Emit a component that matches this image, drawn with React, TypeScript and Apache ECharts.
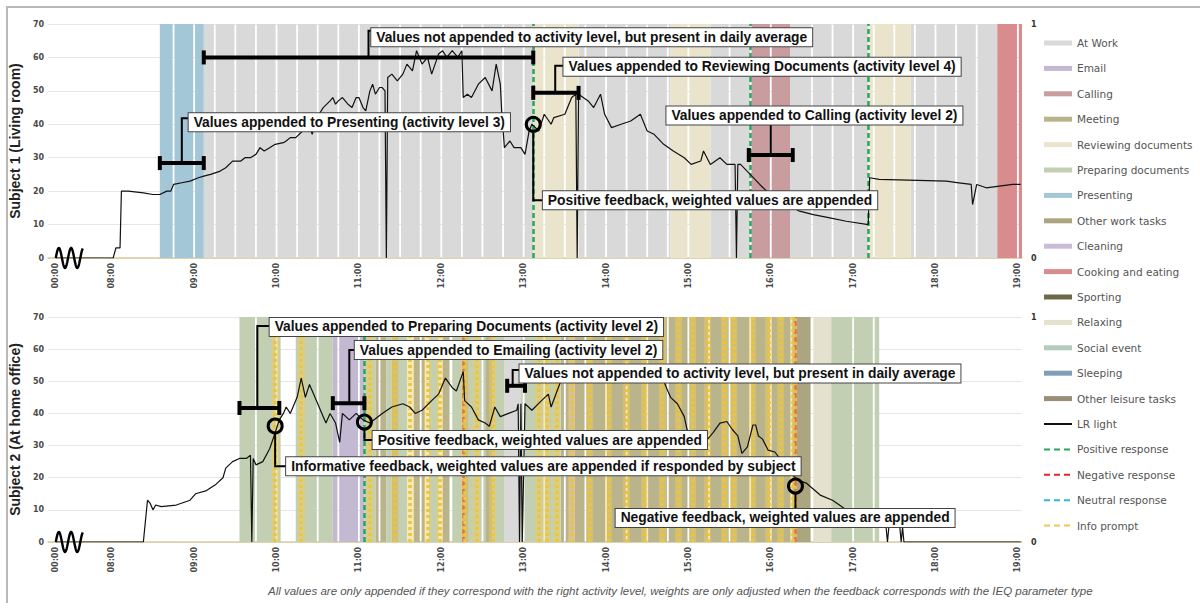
import React, { useEffect, useRef } from 'react';
import * as echarts from 'echarts';

// ---------- axis / ticks ----------
const xTickLabels = ['00:00', '08:00', '09:00', '10:00', '11:00', '12:00', '13:00', '14:00', '15:00', '16:00', '17:00', '18:00', '19:00'];
const AXIS_ZERO = 7.32; // axis position that stands in for 00:00 (broken time axis)
const X_MIN = 7.226;
const X_MAX = 19.05;

// ---------- LR light, subject 1 ----------
const topTimes = ['00:00', '08:01', '08:03', '08:06', '08:07', '08:12', '08:23', '08:30', '08:35', '08:40', '08:43', '08:45', '08:51', '08:57', '09:03', '09:07', '09:12', '09:19', '09:23', '09:28', '09:34', '09:37', '09:41', '09:45', '09:48', '09:51', '09:55', '09:59', '10:05', '10:07', '10:10', '10:14', '10:19', '10:23', '10:26', '10:28', '10:31', '10:34', '10:39', '10:41', '10:43', '10:45', '10:48', '10:52', '10:55', '10:58', '11:00', '11:03', '11:05', '11:08', '11:10', '11:12', '11:15', '11:17', '11:19', '11:20', '11:21', '11:24', '11:28', '11:32', '11:35', '11:39', '11:42', '11:46', '11:50', '11:53', '11:58', '12:01', '12:04', '12:08', '12:12', '12:15', '12:16', '12:19', '12:22', '12:27', '12:32', '12:37', '12:40', '12:43', '12:44', '12:46', '12:50', '12:53', '12:58', '13:01', '13:04', '13:06', '13:11', '13:15', '13:20', '13:22', '13:30', '13:35', '13:38', '13:39', '13:40', '13:47', '13:51', '13:56', '13:59', '14:04', '14:11', '14:18', '14:25', '14:30', '14:35', '14:42', '14:49', '14:57', '15:02', '15:09', '15:11', '15:16', '15:23', '15:28', '15:34', '15:35', '15:36', '15:38', '15:45', '15:52', '15:57', '16:07', '16:21', '16:31', '16:43', '16:55', '17:11', '17:12', '17:19', '18:08', '18:17', '18:26', '18:27', '18:30', '18:37', '18:56', '19:02'];
const topValues = [0, 0, 3, 3, 20, 20, 19.5, 19, 19, 20, 20, 22, 22.5, 23, 24, 24.5, 25, 26, 27, 29, 29, 30, 30, 31, 33, 32, 33, 34, 34.5, 35, 36, 36, 38, 40, 37, 40, 43, 45, 47, 48, 46, 47, 48, 46, 45, 48, 48, 45, 44, 50, 52, 49, 51, 51, 50, 0, 54, 55, 53, 55, 58, 56, 62, 58, 60, 55, 61, 62, 60, 62, 60, 62, 48, 49, 48, 52, 54, 50, 58, 52, 44, 33, 35, 33, 33, 31, 38, 40, 38, 43, 40, 42, 43, 48, 49, 0, 49, 47, 45, 49, 43, 39, 40, 41, 43, 38, 37, 34, 32, 30, 28, 29, 32, 28, 30, 28, 28, 0, 28, 28, 25, 22, 20, 17, 14, 13, 12, 11, 10, 24, 23.5, 23, 22.5, 22, 16, 22, 21, 22, 22];

// ---------- LR light, subject 2 ----------
const bottomTimes = ['00:00', '08:23', '08:26', '08:28', '08:30', '08:32', '08:36', '08:47', '08:57', '09:01', '09:09', '09:16', '09:21', '09:23', '09:28', '09:33', '09:38', '09:41', '09:42', '09:43', '09:45', '09:50', '09:55', '09:59', '10:02', '10:05', '10:07', '10:10', '10:13', '10:15', '10:18', '10:21', '10:24', '10:29', '10:34', '10:36', '10:39', '10:43', '10:46', '10:48', '10:53', '10:58', '11:03', '11:08', '11:17', '11:24', '11:32', '11:37', '11:41', '11:46', '11:53', '11:58', '12:03', '12:08', '12:11', '12:16', '12:17', '12:22', '12:27', '12:32', '12:35', '12:39', '12:43', '12:49', '12:55', '12:56', '12:57', '12:58', '12:59', '13:01', '13:06', '13:13', '13:18', '13:20', '13:27', '13:42', '13:56', '14:11', '14:25', '14:36', '14:42', '14:47', '14:52', '14:57', '14:59', '15:05', '15:12', '15:18', '15:23', '15:28', '15:32', '15:36', '15:39', '15:43', '15:47', '15:49', '15:51', '15:54', '15:58', '16:03', '16:10', '16:19', '16:26', '16:36', '16:45', '16:50', '17:05', '17:19', '17:24', '17:25', '17:26', '17:34', '17:35', '17:36', '17:37', '19:02'];
const bottomValues = [0, 0, 13, 12, 10, 11.5, 11, 11.5, 13, 15, 16, 18, 20, 23, 25, 26, 26, 27, 0, 26, 24, 25, 29, 34, 38, 40, 42, 40, 43, 45, 51, 45, 49, 44, 39, 37, 40, 37, 31, 40, 38, 40, 38, 37, 40, 42, 43, 42, 40, 41, 44, 46, 51, 48, 47, 53, 44, 42, 38, 37, 36, 42, 39, 40, 41, 43, 0, 43, 0, 43, 41, 44, 46, 42, 50, 53, 54, 52, 55, 52, 50, 45, 43, 39, 35, 32, 31, 34, 37, 37.5, 35, 33, 27.6, 29.6, 36.4, 36.4, 33, 32, 28.6, 28, 24, 19.3, 18.3, 14.6, 13, 11.5, 7, 4.6, 4.6, 0, 4.6, 4.6, 0, 4.6, 0, 0];

// ---------- activities ----------
const activityNames = ['At Work', 'Email', 'Calling', 'Meeting', 'Reviewing documents', 'Preparing documents', 'Presenting', 'Other work tasks', 'Cleaning', 'Cooking and eating', 'Sporting', 'Relaxing', 'Social event', 'Sleeping', 'Other leisure tasks'];
const activityColors = ['#d9d9d9', '#c3b9d3', '#c99c9f', '#b9b48c', '#ebe4cd', '#c3cfb2', '#a3c7d6', '#aba67f', '#cbbcd6', '#d98c8e', '#6e6847', '#e5e1cf', '#b3ccbd', '#7f9fb6', '#9a8f76'];

const topBands = [
  ['Presenting', '08:35', '09:07'],
  ['At Work', '09:07', '13:07'],
  ['Reviewing documents', '13:07', '13:40'],
  ['At Work', '13:40', '14:47'],
  ['Reviewing documents', '14:47', '15:16'],
  ['At Work', '15:16', '15:45'],
  ['Calling', '15:46', '16:14'],
  ['At Work', '16:14', '17:11'],
  ['Reviewing documents', '17:12', '17:42'],
  ['At Work', '17:42', '18:45'],
  ['Cooking and eating', '18:45', '19:03'],
];

const bottomBands = [
  ['Preparing documents', '09:33', '10:03'],
  ['Preparing documents', '10:14', '10:41'],
  ['Email', '10:41', '11:04'],
  ['Preparing documents', '11:04', '11:12'],
  ['Meeting', '11:12', '11:20'],
  ['Preparing documents', '11:20', '11:24'],
  ['Meeting', '11:24', '11:29'],
  ['Preparing documents', '11:29', '11:35'],
  ['Meeting', '11:40', '11:48'],
  ['Preparing documents', '11:51', '11:58'],
  ['Meeting', '12:01', '12:06'],
  ['Preparing documents', '12:08', '12:15'],
  ['Meeting', '12:15', '12:20'],
  ['Preparing documents', '12:20', '12:32'],
  ['Meeting', '12:32', '12:37'],
  ['Preparing documents', '12:37', '12:46'],
  ['At Work', '12:46', '12:58'],
  ['Preparing documents', '12:58', '13:27'],
  ['Meeting', '13:27', '13:33'],
  ['Email', '13:33', '13:37'],
  ['Meeting', '13:37', '16:19'],
  ['Other work tasks', '16:19', '16:29'],
  ['Relaxing', '16:31', '16:44'],
  ['Preparing documents', '16:44', '17:19'],
];

// ---------- responses ----------
const responseNames = ['Positive response', 'Negative response', 'Neutral response', 'Info prompt'];
const responseColors = ['#2aa55a', '#e3262b', '#35b6d8', '#f0c850'];
const topPositive = ['13:07', '15:45', '17:11'];
const topNegative: string[] = [];
const topNeutral: string[] = [];
const topInfo: string[] = [];
const bottomPositive = ['11:04'];
const bottomNegative = ['12:16', '16:18'];
const bottomNeutral: string[] = [];
const bottomInfo = ['09:59', '10:18', '11:08', '11:26', '11:37', '11:50', '11:59', '12:17', '12:26', '12:37', '13:11', '13:17', '13:24', '13:35', '13:48', '14:02', '14:15', '14:28', '14:41', '14:53', '15:03', '15:14', '15:26', '15:33', '15:47', '15:58', '16:07', '16:16'];

// ---------- annotations (data coordinates) ----------
const topNotes = [
  { text: 'Values not appended to activity level, but present in daily average', bracket: ['09:07', '13:07', 60], leader: [['11:07', 60], ['11:07', 68], ['11:09', 68]], box: ['11:09', 66] },
  { text: 'Values appended to Presenting (activity level 3)', bracket: ['08:35', '09:07', 28.4], leader: [['08:51', 28.4], ['08:51', 41.8], ['08:56', 41.8]], box: ['08:56', 40.6] },
  { text: 'Values appended to Reviewing Documents (activity level 4)', bracket: ['13:07', '13:40', 49.4], leader: [['13:23', 49.4], ['13:23', 57.5], ['13:29', 57.5]], box: ['13:29', 57.2] },
  { text: 'Values appended to Calling (activity level 2)', bracket: ['15:44', '16:16', 30.8], leader: [['16:00', 30.8], ['16:00', 41]], box: ['14:44', 42.6] },
  { text: 'Positive feedback, weighted values are appended', circle: ['13:07', 40], leader: [['13:07', 40], ['13:07', 17.3], ['13:14', 17.3]], box: ['13:14', 17.3] },
];
const bottomNotes = [
  { text: 'Values appended to Preparing Documents (activity level 2)', bracket: ['09:33', '10:02', 41.7], leader: [['09:46', 41.7], ['09:46', 67.2], ['09:55', 67.2]], box: ['09:55', 66.9] },
  { text: 'Values appended to Emailing (activity level 2)', bracket: ['10:41', '11:04', 43.2], leader: [['10:53', 43.2], ['10:53', 59.7], ['10:57', 59.7]], box: ['10:57', 59.7] },
  { text: 'Values not appended to activity level, but present in daily average', bracket: ['12:48', '13:01', 48.6], leader: [['12:52', 48.6], ['12:52', 53.5], ['12:57', 53.5]], box: ['12:57', 52.4] },
  { text: 'Positive feedback, weighted values are appended', circle: ['11:04', 37.3], leader: [['11:04', 37.3], ['11:04', 31.7], ['11:10', 31.7]], box: ['11:10', 31.7] },
  { text: 'Informative feedback, weighted values are appended if responded by subject', circle: ['09:59', 36.1], leader: [['09:59', 36.1], ['09:59', 23.6], ['10:07', 23.6]], box: ['10:07', 23.6] },
  { text: 'Negative feedback, weighted values are appended', circle: ['16:18', 17.4], leader: [['16:18', 17.4], ['16:18', 9]], box: ['14:07', 7.5] },
];

const yNames = ['Subject 1 (Living room)', 'Subject 2 (At home office)'];
const footerText = 'All values are only appended if they correspond with the right activity level, weights are only adjusted when the feedback corresponds with the IEQ parameter type';

// ---------- helpers ----------
function toAxis(t: string): number {
  const [h, m] = t.split(':').map(Number);
  const hours = h + m / 60;
  return hours >= 8 ? hours : AXIS_ZERO + (hours / 8) * (8 - AXIS_ZERO);
}

function tickLabel(v: number): string {
  for (const l of xTickLabels) if (Math.abs(toAxis(l) - v) < 1e-6) return l;
  return '';
}

const renderBand = (params: any, api: any) => {
  const s = api.value(0);
  const e = api.value(1);
  const top = api.coord([s, 1])[1];
  const bottom = api.coord([s, 0])[1];
  const cuts = [s];
  for (let q = Math.floor(s * 4) / 4 + 0.25; q < e - 0.02; q += 0.25) {
    if (q > s + 0.02) cuts.push(q);
  }
  cuts.push(e);
  const color = api.visual('color');
  const children: any[] = [];
  for (let i = 0; i < cuts.length - 1; i++) {
    const x0 = api.coord([cuts[i], 0])[0];
    const x1 = api.coord([cuts[i + 1], 0])[0];
    const gl = i > 0 ? 0.9 : 0;
    const gr = i < cuts.length - 2 ? 0.9 : 0;
    children.push({
      type: 'rect',
      shape: { x: x0 + gl, y: top, width: Math.max(0, x1 - x0 - gl - gr), height: bottom - top },
      style: { fill: color },
    });
  }
  return { type: 'group', children };
};

const tickFont = { fontSize: 8, fontWeight: 'bold' as const, fontFamily: 'DejaVu Sans', color: '#4a4a4a' };

function buildOption(): any {
  const grids = [
    { left: 44, top: 24, width: 978, height: 234 },
    { left: 44, top: 317, width: 978, height: 225 },
  ];
  const xAxis = [0, 1].map((p) => ({
    type: 'value',
    gridIndex: p,
    min: X_MIN,
    max: X_MAX,
    axisLine: { show: true, onZero: false, lineStyle: { color: '#d8cd9c', width: 1.5 } },
    axisTick: { show: false },
    splitLine: { show: false },
    axisLabel: {
      ...tickFont,
      customValues: xTickLabels.map(toAxis),
      formatter: (v: number) => tickLabel(v),
      rotate: 90,
      margin: 5,
    },
  }));
  const yAxis: any[] = [];
  [0, 1].forEach((p) => {
    yAxis.push({
      type: 'value', gridIndex: p, min: 0, max: 70, interval: 10,
      name: yNames[p], nameLocation: 'middle', nameGap: 18,
      nameTextStyle: { fontFamily: 'Liberation Sans', fontWeight: 'bold', fontSize: 14, color: '#222' },
      axisLine: { show: false }, axisTick: { show: false },
      axisLabel: { ...tickFont, margin: 4 },
      splitLine: { lineStyle: { color: '#e6e6e6' } },
    });
    yAxis.push({
      type: 'value', gridIndex: p, position: 'right', min: 0, max: 1, interval: 1,
      axisLine: { show: false }, axisTick: { show: false }, splitLine: { show: false },
      axisLabel: { ...tickFont, color: '#333', margin: 9 },
    });
  });

  const series: any[] = [];
  [topBands, bottomBands].forEach((bands, p) => {
    activityNames.forEach((name, i) => {
      const data = bands.filter((b) => b[0] === name).map((b) => [toAxis(b[1]), toAxis(b[2]), 0]);
      if (p === 1 && data.length === 0) return;
      series.push({
        type: 'custom', name, xAxisIndex: p, yAxisIndex: p * 2 + 1,
        renderItem: renderBand, itemStyle: { color: activityColors[i] },
        data, encode: { x: [0, 1], y: 2 }, z: 1, silent: true, clip: true,
      });
    });
  });

  [[topTimes, topValues], [bottomTimes, bottomValues]].forEach(([ts, vs]: any, p) => {
    series.push({
      type: 'line', name: 'LR light', xAxisIndex: p, yAxisIndex: p * 2,
      data: ts.map((t: string, i: number) => [toAxis(t), vs[i]]),
      symbol: 'none', lineStyle: { color: '#111', width: 1.2 }, itemStyle: { color: '#111' },
      z: 5, silent: true,
    });
  });

  const responseTimes = [
    [topPositive, topNegative, topNeutral, topInfo],
    [bottomPositive, bottomNegative, bottomNeutral, bottomInfo],
  ];
  responseNames.forEach((name, k) => {
    [0, 1].forEach((p) => {
      const times = responseTimes[p][k];
      const isInfo = k === 3;
      const mlData: any[] = [];
      times.forEach((t) => {
        if (isInfo) {
          mlData.push({ xAxis: toAxis(t), lineStyle: { color: 'rgba(240,205,85,0.45)', width: 7, type: 'solid' } });
          mlData.push({ xAxis: toAxis(t), lineStyle: { color: '#ecc443', width: 3.5, type: [3, 3] } });
        } else {
          mlData.push({ xAxis: toAxis(t), lineStyle: { color: responseColors[k], width: 2.5, type: [5, 3] } });
        }
      });
      series.push({
        type: 'line', name, xAxisIndex: p, yAxisIndex: p * 2, data: [],
        symbol: 'none', lineStyle: { color: responseColors[k], type: [6, 4], width: 2 },
        itemStyle: { color: responseColors[k] }, z: isInfo ? 2 : 3, silent: true,
        markLine: { silent: true, symbol: ['none', 'none'], label: { show: false }, data: mlData },
      });
    });
  });

  const hiddenMarker = { opacity: 0 };
  return {
    animation: false,
    backgroundColor: '#ffffff',
    grid: grids,
    xAxis,
    yAxis,
    legend: {
      orient: 'vertical', left: 1038, top: 31, itemWidth: 28, itemHeight: 5, itemGap: 11.4,
      selectedMode: false,
      textStyle: { fontFamily: 'DejaVu Sans', fontSize: 10.5, color: '#555', lineHeight: 14 },
      data: [
        ...activityNames.map((n) => ({ name: n, icon: 'rect' })),
        { name: 'LR light', itemStyle: hiddenMarker, lineStyle: { width: 2 } },
        ...responseNames.map((n) => ({ name: n, itemStyle: hiddenMarker })),
      ],
    },
    series,
  };
}

function buildGraphics(chart: any): any[] {
  const els: any[] = [];
  const px = (p: number, t: string, v: number) =>
    chart.convertToPixel({ xAxisIndex: p, yAxisIndex: p * 2 }, [toAxis(t), v]);

  els.push({ type: 'rect', shape: { x: 7, y: 7, width: 1220, height: 640 }, style: { fill: 'none', stroke: '#b8b8b8', lineWidth: 2 }, silent: true, z: 0 });

  // axis-break squiggles
  [0, 1].forEach((p) => {
    const s = px(p, '00:00', 0);
    const pts: number[][] = [];
    for (let i = 0; i <= 60; i++) {
      pts.push([s[0] + i * 0.45, s[1] - 10 * Math.sin((i / 60) * Math.PI * 2 * 2.2)]);
    }
    els.push({ type: 'polyline', shape: { points: pts }, style: { stroke: '#000', lineWidth: 2.4, fill: null }, z: 100, silent: true });
  });

  const R = 7;
  [topNotes, bottomNotes].forEach((notes: any[], p) => {
    notes.forEach((n) => {
      const pts = n.leader.map((q: any) => px(p, q[0], q[1]));
      if (n.circle) pts[0] = [pts[0][0], pts[0][1] + R + 1];
      els.push({ type: 'polyline', shape: { points: pts }, style: { stroke: '#000', lineWidth: 2, fill: null }, z: 101, silent: true });
      if (n.bracket) {
        const a = px(p, n.bracket[0], n.bracket[2]);
        const b = px(p, n.bracket[1], n.bracket[2]);
        els.push({ type: 'line', shape: { x1: a[0], y1: a[1], x2: b[0], y2: b[1] }, style: { stroke: '#000', lineWidth: 4 }, z: 102, silent: true });
        [a, b].forEach((c) => {
          els.push({ type: 'line', shape: { x1: c[0], y1: c[1] - 7, x2: c[0], y2: c[1] + 7 }, style: { stroke: '#000', lineWidth: 4 }, z: 102, silent: true });
        });
      }
      if (n.circle) {
        const c = px(p, n.circle[0], n.circle[1]);
        els.push({ type: 'circle', shape: { cx: c[0], cy: c[1], r: R }, style: { fill: 'none', stroke: '#000', lineWidth: 3 }, z: 102, silent: true });
      }
      const bx = px(p, n.box[0], n.box[1]);
      els.push({
        type: 'text', x: bx[0], y: bx[1], z: 103, silent: true,
        style: {
          text: n.text, font: 'bold 13.8px "Liberation Sans", Arial, sans-serif', fill: '#111',
          align: 'left', verticalAlign: 'middle',
          backgroundColor: '#fff', borderColor: '#444', borderWidth: 1, padding: [2, 5, 2, 5],
        },
      });
    });
  });

  els.push({
    type: 'text', x: 268, y: 591, z: 100, silent: true,
    style: { text: footerText, font: 'italic 11.5px "Liberation Sans", Arial, sans-serif', fill: '#555', align: 'left', verticalAlign: 'middle' },
  });
  return els;
}

export default function App() {
  const ref = useRef<HTMLDivElement>(null);
  useEffect(() => {
    const chart = echarts.init(ref.current as HTMLDivElement, null, { renderer: 'svg' });
    chart.setOption(buildOption());
    chart.setOption({ graphic: buildGraphics(chart) });
    return () => chart.dispose();
  }, []);
  return (
    <div
      ref={ref}
      style={{ position: 'fixed', left: 0, top: 0, width: 1200, height: 603, background: '#fff' }}
    />
  );
}
